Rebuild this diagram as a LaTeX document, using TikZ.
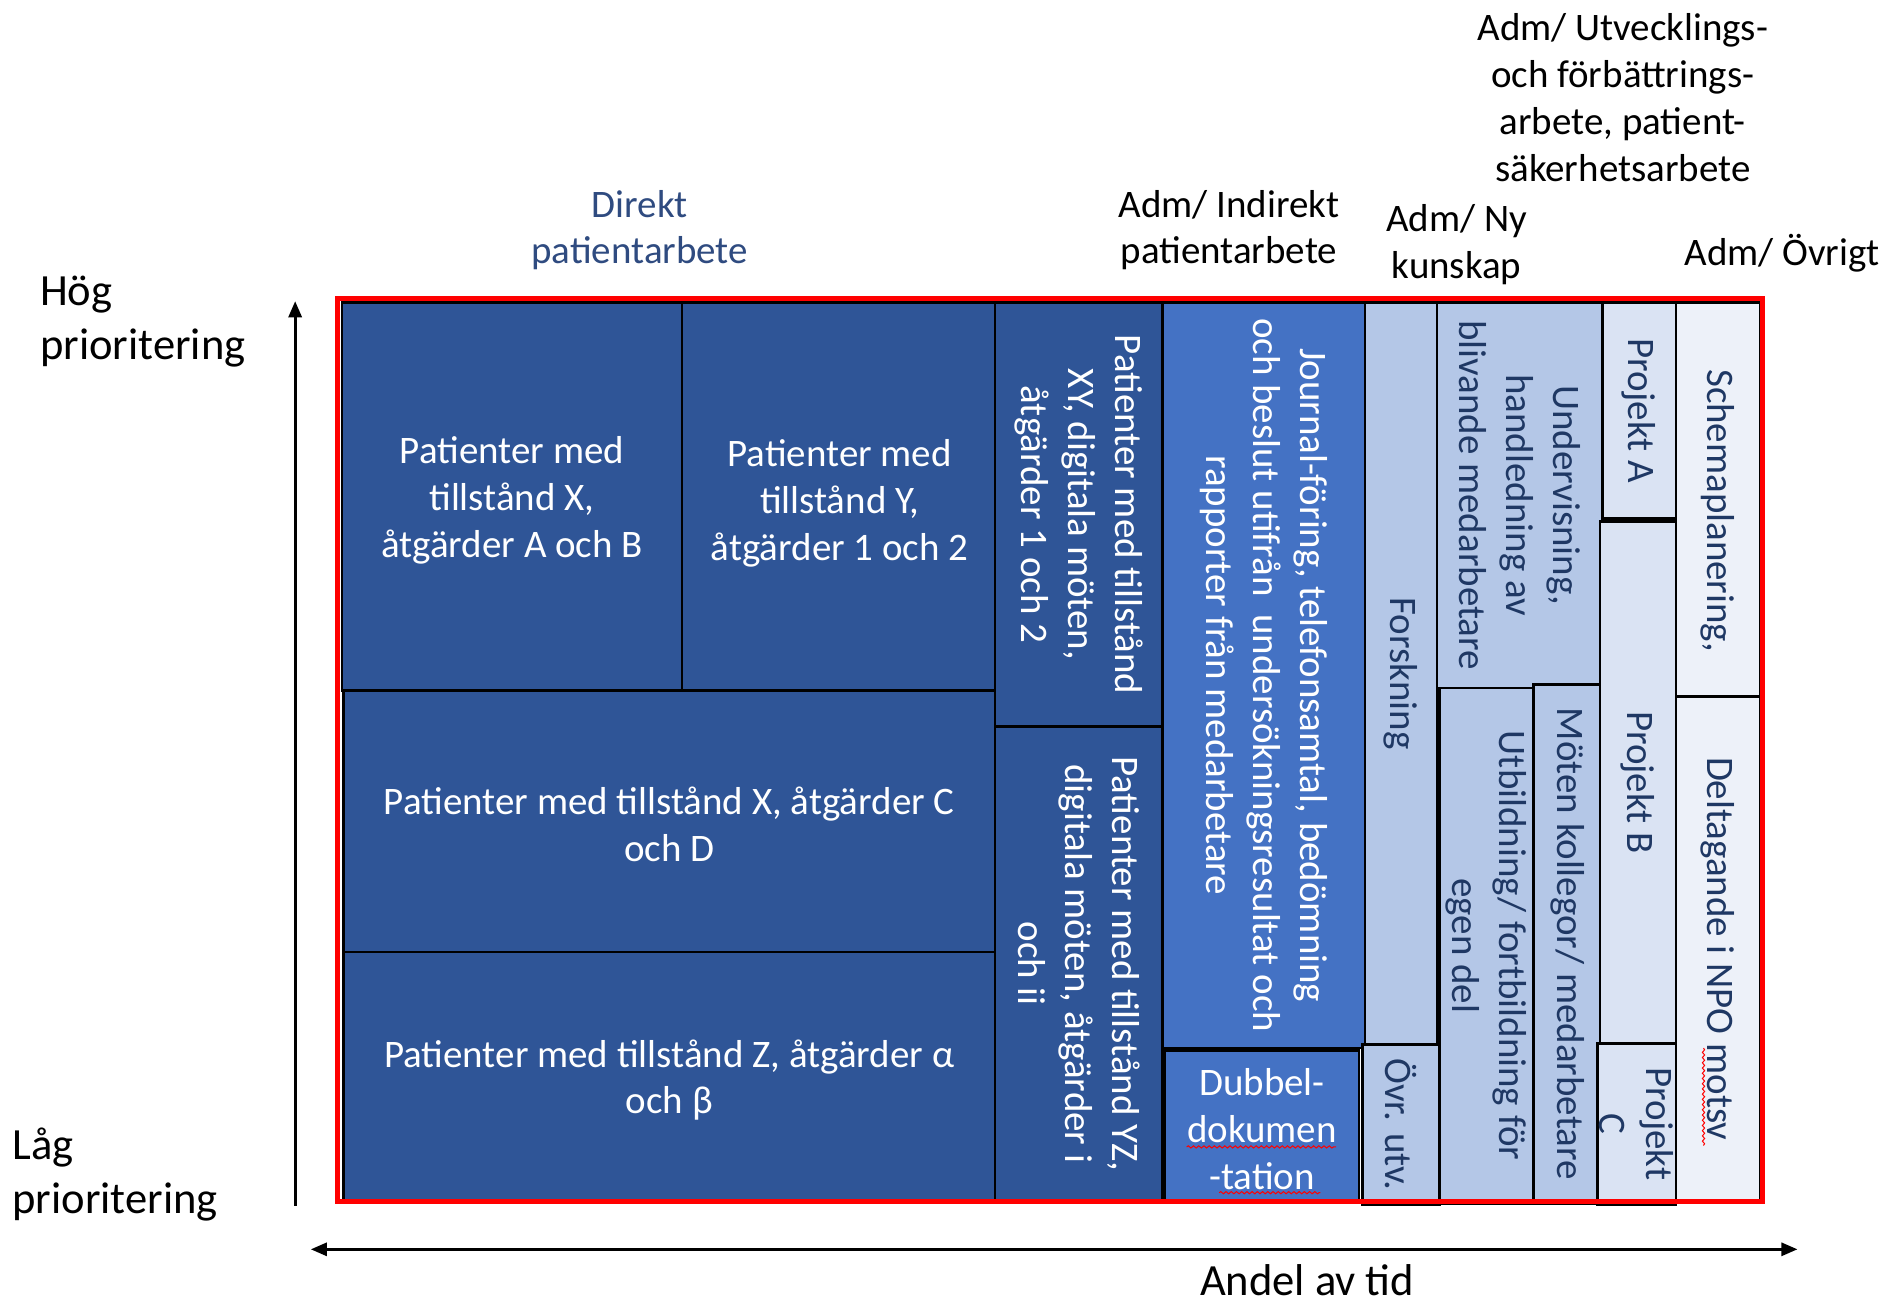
\documentclass[tikz,border=0pt]{standalone}
\usepackage{fontspec}
\setmainfont{Carlito}
\usetikzlibrary{arrows.meta,fit,decorations.pathmorphing}
\definecolor{dk}{HTML}{2F5597}
\definecolor{md}{HTML}{4472C4}
\definecolor{lt}{HTML}{B4C7E7}
\definecolor{lr}{HTML}{DAE3F3}
\definecolor{ls}{HTML}{EDF1F9}
\definecolor{navytxt}{HTML}{1F3864}
\definecolor{headblue}{HTML}{2F4B80}
\begin{document}
\begin{tikzpicture}[x=0.6pt,y=-0.6pt,
  bx/.style={draw=black, line width=1.2pt, inner sep=0pt, outer sep=0pt},
  txt/.style={align=center, font=\fontsize{19.4}{23.4}\selectfont, inner sep=0pt},
  wt/.style={txt, text=white},
  wth/.style={wt, yshift=-1.8pt},
  nt/.style={txt, text=navytxt},
  rot/.style={rotate=-90},
  axlab/.style={align=left, font=\fontsize{22.2}{27}\selectfont, inner sep=0pt},
  hd/.style={align=center, font=\fontsize{19.4}{23.4}\selectfont, inner sep=0pt},
  axis/.style={line width=1.4pt, -{Triangle[length=8pt,width=6.5pt]}},
  spell/.style={red, line width=0.5pt, decorate, decoration={snake, amplitude=0.55pt, segment length=2.6pt}}]
\useasboundingbox (0,0) rectangle (1568,1084);

% headers
\node[hd, text=headblue] (hDir) at (531,191) {Direkt\\patientarbete};
\node[hd] (hInd) at (1020,191) {Adm/ Indirekt\\patientarbete};
\node[hd] (hNy) at (1209,203) {Adm/ Ny\\kunskap};
\node[hd] (hUtv) at (1347,81) {Adm/ Utvecklings-\\och förbättrings-\\arbete, patient-\\säkerhetsarbete};
\node[hd] (hOvr) at (1479,210) {Adm/ Övrigt};

% axis labels
\node[axlab, anchor=west] (hog) at (33,267) {Hög\\prioritering};
\node[axlab, anchor=west] (lag) at (10,975) {Låg\\prioritering};
\node[axlab, text depth=0pt, anchor=south] (andel) at (1085,1076) {Andel av tid};

% axes
\coordinate (yb) at (245,1001);
\coordinate (yt) at (245,250);
\coordinate (xl) at (258,1037);
\coordinate (xr) at (1492,1037);
\draw[axis] (yb) -- (yt);
\draw[axis, {Triangle[length=8pt,width=6.5pt]}-{Triangle[length=8pt,width=6.5pt]}] (xl) -- (xr);

% direct patient work
\node[bx, fill=dk, fit={(284,251)(566,573)}] (bA) {};
\node[wth] (tA) at (bA.center) {Patienter med\\tillstånd X,\\åtgärder A och B};
\node[bx, fill=dk, fit={(566,251)(826,573)}] (bB) {};
\node[wth] (tB) at (697,415) {Patienter med\\tillstånd Y,\\åtgärder 1 och 2};
\node[bx, fill=dk, fit={(285,573)(826,790)}] (bD) {};
\node[wth] (tD) at (bD.center) {Patienter med tillstånd X, åtgärder C\\och D};
\node[bx, fill=dk, fit={(285,790)(826,997)}] (bE) {};
\node[wth] (tE) at (bE.center) {Patienter med tillstånd Z, åtgärder α\\och β};
\node[bx, fill=dk, fit={(826,251)(965,603)}] (bC) {};
\node[wt, rot] (tC) at (bC.center) {Patienter med tillstånd\\XY, digitala möten,\\åtgärder 1 och 2};
\node[bx, fill=dk, fit={(826,603)(965,997)}] (bF) {};
\node[wt, rot] (tF) at (bF.center) {Patienter med tillstånd YZ,\\digitala möten, åtgärder i\\och ii};

% indirect
\node[bx, fill=md, fit={(965,251)(1133,870)}] (bG) {};
\node[wt, rot] (tG) at (bG.center) {Journal-föring, telefonsamtal, bedömning\\och beslut utifrån\ \ undersökningsresultat och\\rapporter från medarbetare};
\node[bx, fill=md, fit={(967,872)(1128,997)}] (bH) {};
\node[wth] (tH) at (bH.center) {Dubbel-\\dokumen\\-tation};
\draw[spell] (985,952) -- (1109,952);
\draw[spell] (1012,990) -- (1096,990);

% new knowledge
\node[bx, fill=lt, fit={(1133,251)(1193,867)}] (bI) {};
\node[nt, rot] (tI) at (bI.center) {Forskning};
\node[bx, fill=lt, fit={(1131,867)(1195,1000)}] (bJ) {};
\node[nt, rot] (tJ) at (bJ.center) {Övr. utv.};
\node[bx, fill=lt, fit={(1193,251)(1330,571)}] (bK) {};
\node[nt, rot] (tK) at (bK.center) {Undervisning,\\handledning av\\blivande medarbetare};
\node[bx, fill=lt, fit={(1195,571)(1273,999)}] (bL) {};
\node[nt, rot] (tL) at (bL.center) {Utbildning/ fortbildning för\\egen del};
\node[bx, fill=lt, fit={(1273,568)(1330,999)}] (bM) {};
\node[nt, rot] (tM) at (bM.center) {Möten kollegor/ medarbetare};

% projects
\node[bx, fill=lr, fit={(1330,251)(1391,431)}] (bN) {};
\node[nt, rot] (tN) at (bN.center) {Projekt A};
\node[bx, fill=lr, fit={(1328,433)(1391,866)}] (bO) {};
\node[nt, rot] (tO) at (bO.center) {Projekt B};
\node[bx, fill=lr, fit={(1326,866)(1391,1000)}] (bP) {};
\node[nt, rot] (tP) at (bP.center) {Projekt\\C};
\draw[line width=2.6pt] (bN.south west) -- (bN.south east);

% other
\node[bx, fill=ls, fit={(1391,251)(1461,578)}] (bQ) {};
\node[nt, rot] (tQ) at (1426,424) {Schemaplanering,};
\node[bx, fill=ls, fit={(1391,578)(1461,997)}] (bR) {};
\node[nt, rot] (tR) at (bR.center) {Deltagande i NPO motsv};
\draw[spell] (1414,870) -- (1414,951);

% red frame
\node[draw=red, line width=2.4pt, inner sep=0pt, fit={(280,248)(1463,997)}] (frame) {};
\end{tikzpicture}
\end{document}
